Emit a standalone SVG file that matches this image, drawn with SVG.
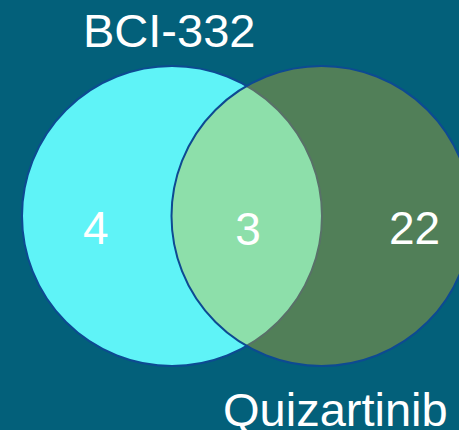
<svg xmlns="http://www.w3.org/2000/svg" width="459" height="430" viewBox="0 0 459 430">
<style>
.lbl{font-family:"Liberation Sans",Arial,sans-serif;font-size:47px;fill:#ffffff}
.num{font-family:"Liberation Sans",Arial,sans-serif;font-size:46px;fill:#ffffff}
.c{stroke:#0D4A92;stroke-width:2}
</style>
<rect x="0" y="0" width="459" height="430" fill="#03607A"/>
<g id="set-bci332">
<circle class="c" cx="172" cy="216" r="150" fill="#5FF3F7"/>
</g>
<g id="set-quizartinib">
<circle class="c" cx="321.5" cy="216" r="150" fill="#E5BA1A" fill-opacity="0.35"/>
</g>
<g id="labels">
<text class="lbl" x="83" y="46.5">BCI-332</text>
<text class="lbl" x="223" y="425.5">Quizartinib</text>
<text class="num" x="83" y="243.5">4</text>
<text class="num" x="248" y="245" text-anchor="middle">3</text>
<text class="num" x="389" y="244">22</text>
</g>
</svg>
